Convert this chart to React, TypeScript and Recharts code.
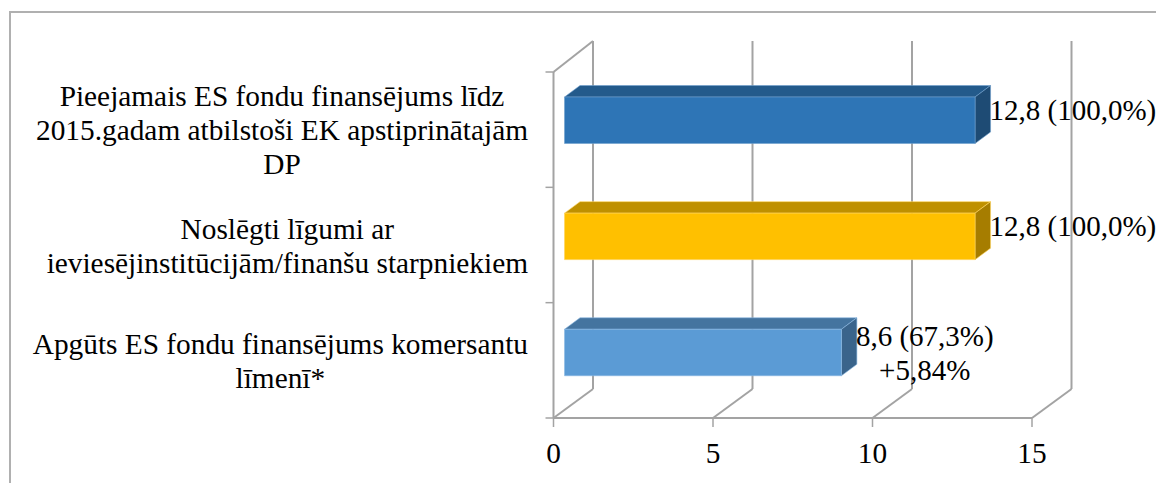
import { Bar, BarChart, CartesianGrid, LabelList, XAxis, YAxis } from "recharts";

const categories = [
  "Pieejamais ES fondu finansējums līdz|2015.gadam atbilstoši EK apstiprinātajām|DP",
  "Noslēgti līgumi ar|ieviesējinstitūcijām/finanšu starpniekiem",
  "Apgūts ES fondu finansējums komersantu|līmenī*",
];
const amounts = [12.87, 12.87, 8.68];
const valueLabels = ["12,8 (100,0%)", "12,8 (100,0%)", "8,6 (67,3%)|+5,84%"];
const xTicks = [0, 5, 10, 15];

const chartData = categories.map((name, i) => ({
  name,
  amount: amounts[i],
  label: valueLabels[i],
}));

const faces = [
  { front: "#2e75b6", top: "#235a8b", side: "#1e4b74", edge: "#6f9fcc" },
  { front: "#ffc000", top: "#bf9000", side: "#a67d00", edge: "#ffd45c" },
  { front: "#5b9bd5", top: "#44749f", side: "#3a648b", edge: "#8bb8e2" },
];

const WIDTH = 1156;
const HEIGHT = 483;
const FONT = '"Liberation Serif", "Times New Roman", serif';
const FONT_SIZE = 29.33;
const LABEL_FONT_SIZE = 29;
const LINE_HEIGHT = 34;
const GREY = "#a3a3a3";
const LEFT = 553.5;
const TOP = 72;
const RIGHT = 1032;
const BOTTOM = 418;
const BAND = (BOTTOM - TOP) / categories.length;
// 3D depth of the walls and of the bars
const WALL_DX = 39.5;
const WALL_DY = 29;
const BAR_DX = 11;
const BAR_DY = 9;
const BAR_STEP = 0.8; // bars sit a little further apart than the bands
const BAR_DEPTH_X = 15.5;
const BAR_DEPTH_Y = 11.5;

const ctx = document.createElement("canvas").getContext("2d")!;
const textWidth = (s: string, size: number) => {
  ctx.font = `${size}px ${FONT}`;
  return ctx.measureText(s).width;
};

function WallLine({ x1 }: any) {
  const bx = x1 + WALL_DX;
  return (
    <g fill="none" stroke={GREY} strokeWidth={2}>
      <line x1={x1} y1={BOTTOM} x2={bx} y2={BOTTOM - WALL_DY} />
      <line x1={bx} y1={BOTTOM - WALL_DY} x2={bx} y2={TOP - 31} />
      {x1 < LEFT + 1 && <line x1={x1} y1={TOP} x2={bx} y2={TOP - 31} />}
    </g>
  );
}

function CategoryTick({ y, payload, index }: any) {
  const lines: string[] = payload.value.split("|");
  const textRight = 528;
  const center = textRight - Math.max(...lines.map((l) => textWidth(l, FONT_SIZE))) / 2;
  const firstBaseline = y + 10.5 - ((lines.length - 1) * LINE_HEIGHT) / 2;
  return (
    <g>
      <line x1={LEFT - 8} x2={LEFT} y1={y - BAND / 2} y2={y - BAND / 2} stroke={GREY} strokeWidth={1.5} />
      {index === categories.length - 1 && (
        <line x1={LEFT - 8} x2={LEFT} y1={y + BAND / 2} y2={y + BAND / 2} stroke={GREY} strokeWidth={1.5} />
      )}
      <text x={center} textAnchor="middle" fontFamily={FONT} fontSize={FONT_SIZE} fill="#000">
        {lines.map((line, i) => (
          <tspan key={i} x={center} y={firstBaseline + i * LINE_HEIGHT}>
            {line}
          </tspan>
        ))}
      </text>
    </g>
  );
}

function Bar3D({ x, y, width, height, index }: any) {
  const c = faces[index];
  const fx = x + BAR_DX;
  const fy = y - BAR_DY + index * BAR_STEP;
  const r = fx + width;
  const b = fy + height;
  const dx = BAR_DEPTH_X;
  const dy = BAR_DEPTH_Y;
  return (
    <g stroke={c.edge} strokeWidth={0.6} strokeLinejoin="round">
      <path d={`M${fx},${fy}L${fx + dx},${fy - dy}L${r + dx},${fy - dy}L${r},${fy}Z`} fill={c.top} />
      <path d={`M${r},${fy}L${r + dx},${fy - dy}L${r + dx},${b - dy}L${r},${b}Z`} fill={c.side} />
      <rect x={fx} y={fy} width={width} height={height} fill={c.front} />
    </g>
  );
}

function ValueLabel({ x, y, width, height, value, index }: any) {
  const lines: string[] = String(value).split("|");
  const left = x + BAR_DX + width + BAR_DEPTH_X - 1;
  const center = left + Math.max(...lines.map((l) => textWidth(l, LABEL_FONT_SIZE))) / 2;
  const mid = y - BAR_DY + index * BAR_STEP + height / 2;
  const firstBaseline = mid - (lines.length - 1) * 6.5;
  return (
    <text textAnchor="middle" fontFamily={FONT} fontSize={LABEL_FONT_SIZE} fill="#000">
      {lines.map((line, i) => (
        <tspan key={i} x={center} y={firstBaseline + i * LINE_HEIGHT}>
          {line}
        </tspan>
      ))}
    </text>
  );
}

export default function App() {
  return (
    <div style={{ position: "absolute", left: 0, top: 0, width: WIDTH, height: HEIGHT, overflow: "hidden", background: "#fff" }}>
      <div
        style={{
          position: "absolute",
          left: 9,
          top: 11,
          width: WIDTH,
          height: HEIGHT,
          borderLeft: "2px solid #b0b0b0",
          borderTop: "2px solid #b0b0b0",
        }}
      />
      <div style={{ position: "absolute", left: 0, top: 0 }}>
        <BarChart
          width={WIDTH}
          height={HEIGHT}
          layout="vertical"
          data={chartData}
          barCategoryGap={0}
          margin={{ left: 0, top: TOP, right: WIDTH - RIGHT, bottom: 0 }}
        >
          <CartesianGrid horizontal={false} vertical={(props: any) => <WallLine key={props.x1} {...props} />} />
          <XAxis
            type="number"
            domain={[0, 15]}
            ticks={xTicks}
            height={HEIGHT - BOTTOM}
            tickSize={9}
            tickMargin={15}
            tick={{ fontFamily: FONT, fontSize: FONT_SIZE, fill: "#000" }}
            axisLine={{ stroke: GREY, strokeWidth: 2 }}
            tickLine={{ stroke: GREY, strokeWidth: 1.5 }}
          />
          <YAxis
            type="category"
            dataKey="name"
            width={LEFT}
            interval={0}
            tickLine={false}
            axisLine={{ stroke: GREY, strokeWidth: 2 }}
            tick={<CategoryTick />}
          />
          <Bar dataKey="amount" barSize={46.5} shape={<Bar3D />} isAnimationActive={false}>
            <LabelList dataKey="label" content={<ValueLabel />} />
          </Bar>
        </BarChart>
      </div>
    </div>
  );
}
